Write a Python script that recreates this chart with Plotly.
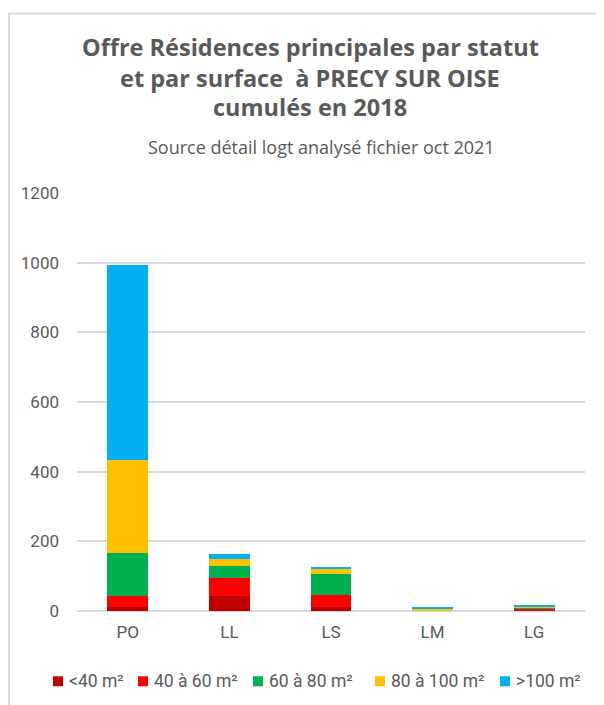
import plotly.graph_objects as go

categories = ["PO", "LL", "LS", "LM", "LG"]
series_names = ["<40 m²", "40 à 60 m²", "60 à 80 m²", "80 à 100 m²", ">100 m²"]
lt40 = [11, 42, 11, 0, 2]
s40_60 = [32, 54, 34, 1, 4]
s60_80 = [123, 33, 61, 1, 4]
s80_100 = [267, 19, 17, 4, 2]
gt100 = [561, 17, 4, 3, 5]
series_values = [lt40, s40_60, s60_80, s80_100, gt100]
colors = ["#C00000", "#FF0000", "#00B050", "#FFC000", "#00B0F0"]
y_ticks = [0, 200, 400, 600, 800, 1000, 1200]

FONT = "Roboto, DejaVu Sans, sans-serif"
TFONT = "Open Sans, Roboto, sans-serif"
GRAY = "#595959"

# page has an 8px body margin: figure pixel = reference pixel - 8
OFF = 8
W, H = 604 - OFF, 705 - OFF
L, R, T, B = 77 - OFF, W - (585 - OFF), 192.5 - OFF, H - (610.7 - OFF)
plot_w = W - L - R
plot_h = H - T - B

def px(xr):
    return (xr - OFF - L) / plot_w

def py(yr):
    return (H - B - (yr - OFF)) / plot_h

fig = go.Figure()
for name, vals, col in zip(series_names, series_values, colors):
    fig.add_trace(go.Bar(x=categories, y=vals, name=name,
                         marker=dict(color=col, line=dict(width=0)), width=0.4))

fig.update_layout(
    barmode="stack",
    width=W, height=H,
    plot_bgcolor="white", paper_bgcolor="white",
    margin=dict(l=L, r=R, t=T, b=B, autoexpand=False),
    font=dict(family=FONT, color=GRAY, size=16),
    showlegend=False,
    xaxis=dict(showgrid=False, showline=False, ticks="", ticklabelstandoff=9,
               tickfont=dict(size=17, color=GRAY)),
    yaxis=dict(range=[0, 1200], tickvals=y_ticks, showgrid=True, gridcolor="#d9d9d9", gridwidth=1.5,
               zeroline=True, zerolinecolor="#d9d9d9", zerolinewidth=1.5,
               ticks="", ticklabelstandoff=17, tickfont=dict(size=17, color=GRAY)),
)

title_lines = ["Offre Résidences principales par statut",
               "et par surface  à PRECY SUR OISE",
               "cumulés en 2018"]
title_y = [46, 77, 106]
for txt, yy in zip(title_lines, title_y):
    fig.add_annotation(text="<b>" + txt + "</b>", x=px(310), y=py(yy), xref="paper", yref="paper",
                       showarrow=False, xanchor="center", yanchor="middle",
                       font=dict(size=23.5, color=GRAY, family=TFONT))

fig.add_annotation(text="Source détail logt analysé fichier oct 2021",
                   x=px(321), y=py(146), xref="paper", yref="paper",
                   showarrow=False, xanchor="center", yanchor="middle",
                   font=dict(size=18, color=GRAY, family=TFONT))

# manual legend
leg_x = [53, 138, 253, 375, 500]
leg_y = 681
for name, col, lx in zip(series_names, colors, leg_x):
    fig.add_shape(type="rect", xref="paper", yref="paper",
                  x0=px(lx), x1=px(lx + 10), y0=py(leg_y + 5), y1=py(leg_y - 5),
                  fillcolor=col, line=dict(width=0))
    fig.add_annotation(text=name, x=px(lx + 14), y=py(leg_y), xref="paper", yref="paper",
                       showarrow=False, xanchor="left", yanchor="middle",
                       font=dict(size=17.5, color=GRAY, family=FONT))

# outer frame
fig.add_shape(type="rect", xref="paper", yref="paper",
              x0=px(9), x1=px(640), y0=py(740), y1=py(13),
              line=dict(color="#d9d9d9", width=2), fillcolor="rgba(0,0,0,0)", layer="below")

fig.write_html("out.html")
